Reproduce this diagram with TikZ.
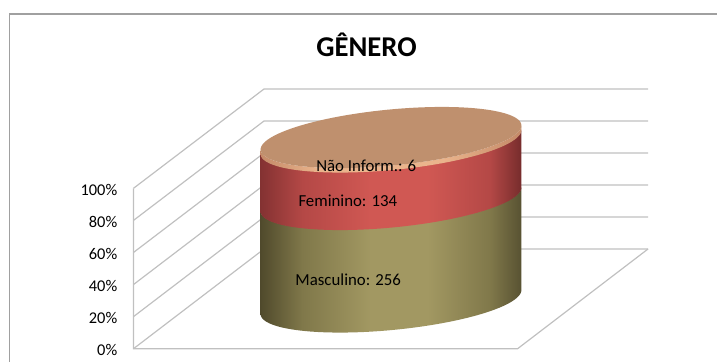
\documentclass[tikz,border=0pt]{standalone}
\usepackage{fontspec}
\setmainfont{Carlito}

\definecolor{mascdark}{RGB}{80,74,44}
\definecolor{mascmid}{RGB}{128,120,74}
\definecolor{masclight}{RGB}{162,152,98}
\definecolor{mascright}{RGB}{88,82,50}
\definecolor{femdark}{RGB}{132,50,50}
\definecolor{femmid}{RGB}{180,72,70}
\definecolor{femlight}{RGB}{208,88,83}
\definecolor{femright}{RGB}{118,44,44}
\definecolor{nidark}{RGB}{196,138,104}
\definecolor{nilight}{RGB}{234,180,140}
\definecolor{nitop}{RGB}{191,144,110}
\definecolor{gridgray}{RGB}{192,192,192}
\definecolor{framegray}{RGB}{160,160,160}

\pgfdeclarehorizontalshading{mascside}{100bp}{color(0bp)=(mascdark); color(25bp)=(mascdark);
  color(33bp)=(mascmid); color(46bp)=(masclight); color(57bp)=(masclight);
  color(69bp)=(mascmid); color(75bp)=(mascright); color(100bp)=(mascright)}
\pgfdeclarehorizontalshading{femside}{100bp}{color(0bp)=(femdark); color(25bp)=(femdark);
  color(33bp)=(femmid); color(46bp)=(femlight); color(57bp)=(femlight);
  color(69bp)=(femmid); color(75bp)=(femright); color(100bp)=(femright)}
\pgfdeclarehorizontalshading{niside}{100bp}{color(0bp)=(nidark); color(25bp)=(nidark);
  color(36bp)=(nilight); color(60bp)=(nilight); color(75bp)=(nidark); color(100bp)=(nidark)}

% one visible side band of the cylinder, between an upper and a lower level
\newcommand{\cylband}[3]{%
  \shade[shading=#1] ({ex(181.18)},{#2+ey(181.18)})
    -- plot[domain=181.18:1.18,samples=60,variable=\t] ({ex(\t)},{#3+ey(\t)})
    -- plot[domain=1.18:181.18,samples=60,variable=\t] ({ex(\t)},{#2+ey(\t)}) -- cycle;}

\begin{document}
\begin{tikzpicture}[x=0.75pt,y=-0.75pt,
    grid/.style={draw=gridgray,line width=0.9pt},
    axislbl/.style={anchor=base east,inner sep=0pt,font=\fontsize{12.3}{14}\selectfont},
    datalbl/.style={anchor=base,inner sep=0pt,font=\fontsize{12.6}{15}\selectfont},
    declare function={ex(\t)=391+131*cos(\t)*0.9954+28*sin(\t)*0.0958;
                      ey(\t)=-131*cos(\t)*0.0958+28*sin(\t)*0.9954;}]
    \useasboundingbox (0,0) rectangle (717,361);
    \draw[framegray,line width=1.2pt] (9.5,400) -- (9.5,14) -- (760,14);

    \node[font=\fontsize{21.5}{26}\selectfont\bfseries,anchor=base,inner sep=0pt]
        (title) at (366.5,56.5) {GÊNERO};

    \foreach \i in {0,...,5}{
        \draw[grid] (133.5,{188.3+32.08*\i}) -- (264,{89+32*\i}) -- (648,{89+32*\i});
        \pgfmathtruncatemacro\p{100-20*\i}
        \node[axislbl] (tick\i) at (117.5,{195+32.08*\i}) {\p\%};
    }
    \draw[grid] (133.5,188.3) -- (133.5,348.7) -- (517.6,348.7) -- (648,249);

    \cylband{mascside}{199}{302}
    \cylband{femside}{141.5}{199.5}
    \cylband{niside}{137.5}{142}
    \fill[nitop] plot[domain=0:360,samples=120,variable=\t] ({ex(\t)},{137.5+ey(\t)}) -- cycle;

    \node[datalbl] (ni)   at (366.2,171.5) {Não Inform.: 6};
    \node[datalbl] (fem)  at (347.8,206)   {Feminino: 134};
    \node[datalbl] (masc) at (348.2,285)   {Masculino: 256};
\end{tikzpicture}
\end{document}
